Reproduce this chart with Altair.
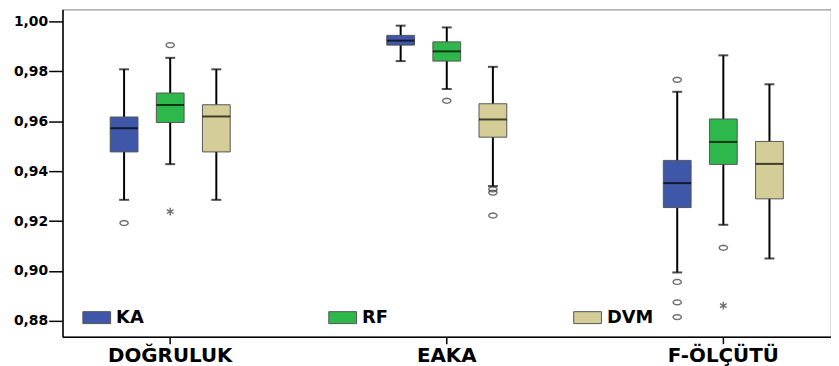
import altair as alt
import pandas as pd

metrics = ["DOĞRULUK", "EAKA", "F-ÖLÇÜTÜ"]
methods = ["KA", "RF", "DVM"]
colors = ["#3f57a8", "#2eb84b", "#d4cd98"]
yticks = [0.88, 0.90, 0.92, 0.94, 0.96, 0.98, 1.00]

# box statistics, order: metric-major, method-minor
lower  = [0.9285, 0.9428, 0.9285, 0.9841, 0.9729, 0.9340, 0.8994, 0.9185, 0.9050]
q1     = [0.9477, 0.9595, 0.9477, 0.9905, 0.9841, 0.9536, 0.9254, 0.9427, 0.9289]
median = [0.9572, 0.9665, 0.9619, 0.9923, 0.9880, 0.9607, 0.9352, 0.9517, 0.9429]
q3     = [0.9617, 0.9713, 0.9666, 0.9944, 0.9918, 0.9670, 0.9443, 0.9609, 0.9519]
upper  = [0.9808, 0.9854, 0.9808, 0.9983, 0.9976, 0.9818, 0.9718, 0.9864, 0.9748]

out_metric = ["DOĞRULUK", "DOĞRULUK", "DOĞRULUK", "EAKA", "EAKA", "EAKA", "EAKA",
              "F-ÖLÇÜTÜ", "F-ÖLÇÜTÜ", "F-ÖLÇÜTÜ", "F-ÖLÇÜTÜ", "F-ÖLÇÜTÜ", "F-ÖLÇÜTÜ"]
out_method = ["KA", "RF", "RF", "RF", "DVM", "DVM", "DVM",
              "KA", "KA", "KA", "KA", "RF", "RF"]
out_value  = [0.9192, 0.9905, 0.9238, 0.9682, 0.9327, 0.9314, 0.9222,
              0.9766, 0.8956, 0.8874, 0.8815, 0.9093, 0.8861]
out_kind   = ["o", "o", "*", "o", "o", "o", "o",
              "o", "o", "o", "o", "o", "*"]

df = pd.DataFrame({
    "metric": [m for m in metrics for _ in methods],
    "method": methods * len(metrics),
    "lower": lower, "q1": q1, "median": median, "q3": q3, "upper": upper,
})
odf = pd.DataFrame({"metric": out_metric, "method": out_method,
                    "value": out_value, "kind": out_kind})

FONT = "DejaVu Sans"
ydom = [0.87364, 1.00477]

ELLIPSE = ("M1,0L0.87,0.3L0.5,0.52L0,0.6L-0.5,0.52L-0.87,0.3L-1,0"
           "L-0.87,-0.3L-0.5,-0.52L0,-0.6L0.5,-0.52L0.87,-0.3Z")
STAR = "M0,-1L0,1M-0.87,-0.5L0.87,0.5M-0.87,0.5L0.87,-0.5"

xenc = alt.X("metric:N", sort=metrics,
             scale=alt.Scale(paddingInner=0.3, paddingOuter=0.0393),
             axis=alt.Axis(title=None, labelAngle=0, tickSize=7, labelPadding=2,
                           labelFontSize=20, domainColor="black", tickColor="black",
                           domainWidth=1.5, tickWidth=1.5))
xoff = alt.XOffset("method:N", sort=methods,
                   scale=alt.Scale(paddingInner=0, paddingOuter=0.599))
yscale = alt.Scale(domain=ydom, nice=False, zero=False)
yaxis = alt.Axis(values=yticks, title=None,
                 labelExpr="replace(format(datum.value, '.2f'), '.', ',')",
                 tickSize=14, labelPadding=1, labelFontSize=14,
                 domainColor="black", tickColor="black", grid=False,
                 domainWidth=1.5, tickWidth=1.5)

def Y(field):
    return alt.Y(field, scale=yscale, axis=yaxis, title=None)

base = alt.Chart(df).encode(x=xenc, xOffset=xoff)

whisker = base.mark_rule(color="black", strokeWidth=2).encode(
    y=Y("lower:Q"), y2="upper:Q")

box = base.mark_bar(size=28, stroke="#555", strokeWidth=1).encode(
    y=Y("q1:Q"),
    y2="q3:Q",
    color=alt.Color("method:N", sort=methods,
                    scale=alt.Scale(domain=methods, range=colors),
                    legend=alt.Legend(orient="none", legendX=20, legendY=296,
                                      direction="horizontal", columns=3,
                                      columnPadding=184, title=None,
                                      symbolType="M-1,-0.43H1V0.43H-1Z",
                                      symbolSize=784, symbolStrokeColor="#555",
                                      symbolStrokeWidth=1, symbolOpacity=1,
                                      labelFont=FONT, labelFontSize=18,
                                      labelFontWeight="bold", labelColor="black",
                                      labelOffset=5, padding=0)))

med = base.mark_tick(color="black", size=28, thickness=2).encode(y=Y("median:Q"))
cap_lo = base.mark_tick(color="black", size=10, thickness=2).encode(y=Y("lower:Q"))
cap_hi = base.mark_tick(color="black", size=10, thickness=2).encode(y=Y("upper:Q"))

outl = alt.Chart(odf).mark_point(filled=False, color="#333", strokeWidth=1.4).encode(
    x=xenc, xOffset=xoff,
    y=Y("value:Q"),
    shape=alt.Shape("kind:N", legend=None,
                    scale=alt.Scale(domain=["o", "*"], range=[ELLIPSE, STAR])),
    size=alt.Size("kind:N", legend=None,
                  scale=alt.Scale(domain=["o", "*"], range=[70, 60])))

chart = alt.layer(whisker, box, med, cap_lo, cap_hi, outl).properties(
    width=775, height=330,
    padding={"left": 55, "top": 0, "right": 0, "bottom": 28},
    autosize=alt.AutoSizeParams(type="none"),
).configure_view(stroke="#999", strokeWidth=1.2).configure_axis(
    labelFont=FONT, labelFontWeight="bold", labelColor="black"
).configure_legend(labelFont=FONT)

chart.save("out.html", embed_options={"renderer": "svg", "actions": False})
